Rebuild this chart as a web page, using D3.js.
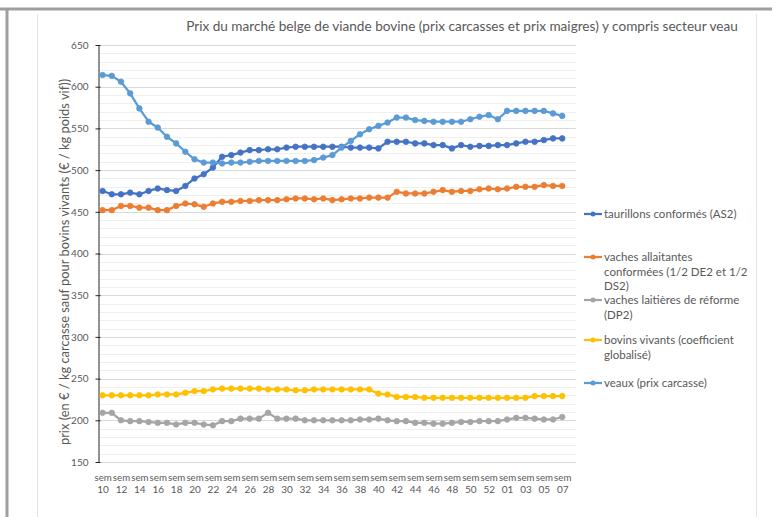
<!DOCTYPE html>
<html>
<head>
<meta charset="utf-8">
<script src="https://cdn.jsdelivr.net/npm/d3@7/dist/d3.min.js"></script>
<style>
  body { margin: 0; background: #fff; }
  svg { display: block; font-family: Lato, "Open Sans", sans-serif; }
</style>
</head>
<body>
<svg id="chart" width="779" height="517"></svg>
<script>
// weeks: sem 10 .. sem 53, then sem 01 .. sem 08 (last one empty)
const weeks = [10, 11, 12, 13, 14, 15, 16, 17, 18, 19, 20, 21, 22, 23, 24, 25, 26, 27, 28, 29,
  30, 31, 32, 33, 34, 35, 36, 37, 38, 39, 40, 41, 42, 43, 44, 45, 46, 47, 48, 49, 50, 51, 52, 53,
  1, 2, 3, 4, 5, 6, 7, 8];
const categories = weeks.map((w, i) => `${i}|${String(w).padStart(2, '0')}`);

const taurillons = [475, 471, 471, 473, 471, 475, 478, 476, 475, 481, 490, 495, 503, 516, 518, 521,
  524, 524, 525, 525, 527, 528, 528, 528, 528, 528, 528, 527, 527, 527, 526, 534, 534, 534, 532,
  532, 530, 530, 526, 530, 528, 529, 529, 530, 530, 532, 534, 534, 536, 538, 538];
const allaitantes = [452, 452, 457, 457, 455, 455, 452, 452, 457, 460, 459, 456, 460, 462, 462,
  463, 463, 464, 464, 464, 465, 466, 466, 465, 466, 464, 465, 466, 466, 467, 467, 467, 474, 472,
  472, 472, 474, 476, 474, 475, 475, 477, 478, 477, 478, 480, 480, 480, 482, 481, 481];
const laitieres = [209, 209, 200, 199, 199, 198, 197, 197, 195, 197, 197, 195, 194, 199, 199, 202,
  202, 202, 209, 202, 202, 202, 200, 200, 200, 200, 200, 200, 201, 201, 202, 200, 199, 199, 197,
  197, 196, 196, 197, 198, 198, 199, 199, 199, 201, 203, 203, 202, 201, 201, 204];
const bovins = [230, 230, 230, 230, 230, 230, 231, 231, 231, 233, 235, 235, 237, 238, 238, 238,
  238, 238, 237, 237, 237, 236, 236, 237, 237, 237, 237, 237, 237, 237, 232, 231, 228, 228, 228,
  227, 227, 227, 227, 227, 227, 227, 227, 227, 227, 227, 227, 229, 229, 229, 229];
const veaux = [614, 613, 606, 592, 574, 558, 551, 540, 532, 522, 513, 509, 509, 508, 509, 509,
  510, 511, 511, 511, 511, 511, 511, 512, 515, 518, 527, 535, 543, 549, 553, 557, 563, 563, 560,
  559, 558, 558, 558, 558, 561, 564, 566, 561, 571, 571, 571, 571, 571, 568, 565];

const seriesNames = ['taurillons conformés (AS2)', 'vaches allaitantes conformées (1/2 DE2 et 1/2 DS2)',
  'vaches laitières de réforme (DP2)', 'bovins vivants (coefficient globalisé)', 'veaux (prix carcasse)'];
const legendLines = [['taurillons conformés (AS2)'],
  ['vaches allaitantes', 'conformées (1/2 DE2 et 1/2', 'DS2)'],
  ['vaches laitières de réforme', '(DP2)'],
  ['bovins vivants (coefficient', 'globalisé)'],
  ['veaux (prix carcasse)']];
const seriesValues = [taurillons, allaitantes, laitieres, bovins, veaux];
const colors = ['#4472c4', '#ed7d31', '#a5a5a5', '#ffc000', '#5b9bd5'];
const legendY = [214, 257, 300, 340, 383];

const title = 'Prix du marché belge de viande bovine (prix carcasses et prix maigres) y compris secteur veau';
const yTitle = 'prix (en € / kg carcasse sauf pour bovins vivants (€ / kg poids vif))';

const svg = d3.select('#chart');
const textColor = '#595959';

// page / chart frame
svg.append('line').attr('x1', 0).attr('x2', 772).attr('y1', 9).attr('y2', 9)
  .attr('stroke', '#9f9f9f').attr('stroke-width', 3);
svg.append('line').attr('x1', 7).attr('x2', 7).attr('y1', 9).attr('y2', 517)
  .attr('stroke', '#9f9f9f').attr('stroke-width', 3);
svg.append('line').attr('x1', 37.5).attr('x2', 37.5).attr('y1', 14).attr('y2', 517)
  .attr('stroke', '#e3e3e3').attr('stroke-width', 1);
svg.append('line').attr('x1', 756.5).attr('x2', 756.5).attr('y1', 14).attr('y2', 517)
  .attr('stroke', '#e3e3e3').attr('stroke-width', 1);

const x = d3.scalePoint().domain(categories).range([98, 576]).padding(0.5);
const y = d3.scaleLinear().domain([150, 650]).range([462, 45]);

// minor gridlines
svg.append('g')
  .selectAll('line')
  .data(d3.range(150, 651, 10).filter(v => v % 50 !== 0))
  .join('line')
  .attr('x1', 98).attr('x2', 576)
  .attr('y1', d => Math.round(y(d)) + 0.5).attr('y2', d => Math.round(y(d)) + 0.5)
  .attr('stroke', '#f0f0f0');

// major gridlines
svg.append('g')
  .selectAll('line')
  .data(d3.range(150, 651, 50))
  .join('line')
  .attr('x1', 98).attr('x2', 576)
  .attr('y1', d => Math.round(y(d)) + 0.5).attr('y2', d => Math.round(y(d)) + 0.5)
  .attr('stroke', '#d9d9d9');

// y axis
const yAxis = svg.append('g')
  .attr('transform', 'translate(98.5,0)')
  .call(d3.axisLeft(y).tickValues(d3.range(150, 651, 50)).tickSize(3).tickPadding(7)
    .tickSizeOuter(0));
yAxis.select('.domain').attr('stroke', '#262626');
yAxis.selectAll('.tick line').attr('stroke', '#262626').attr('x2', -3).attr('x1', 2);
yAxis.selectAll('.tick text').attr('fill', textColor).style('font-size', '10px')
  .style('font-family', 'Lato, sans-serif');

// x axis labels (every second week), "sem" over the week number
const xAxis = svg.append('g')
  .attr('transform', 'translate(0,462)')
  .call(d3.axisBottom(x).tickValues(categories.filter((c, i) => i % 2 === 0 && i < 51))
    .tickSize(0).tickFormat(() => ''));
xAxis.select('.domain').remove();
xAxis.selectAll('.tick text').each(function (d) {
  const t = d3.select(this).attr('fill', textColor).style('font-family', 'Lato, sans-serif')
    .attr('y', 0).attr('dy', null);
  t.append('tspan').attr('x', 0).attr('y', 18.5).style('font-size', '9.7px').text('sem');
  t.append('tspan').attr('x', 0).attr('y', 31).style('font-size', '10px').text(d.split('|')[1]);
});

// series
const line = d3.line().x((d, i) => x(categories[i])).y(d => y(d));
seriesValues.forEach((vals, k) => {
  const g = svg.append('g');
  g.append('path').datum(vals).attr('d', line)
    .attr('fill', 'none').attr('stroke', colors[k]).attr('stroke-width', 2.25)
    .attr('stroke-linejoin', 'round');
  g.selectAll('circle').data(vals).join('circle')
    .attr('cx', (d, i) => x(categories[i])).attr('cy', d => y(d)).attr('r', 2.8)
    .attr('fill', colors[k]).attr('stroke', colors[k]).attr('stroke-width', 0.75);
});

// title
svg.append('text').attr('x', 462).attr('y', 31).attr('text-anchor', 'middle')
  .attr('fill', textColor).style('font-size', '13.6px').text(title);

// y title
svg.append('text').attr('transform', 'translate(69,262) rotate(-90)')
  .attr('text-anchor', 'middle').attr('fill', textColor).style('font-size', '12.9px').text(yTitle);

// legend
const legend = svg.append('g');
seriesNames.forEach((name, k) => {
  const g = legend.append('g').attr('transform', `translate(0,${legendY[k]})`);
  g.append('line').attr('x1', 584).attr('x2', 602).attr('y1', 0).attr('y2', 0)
    .attr('stroke', colors[k]).attr('stroke-width', 2.25);
  g.append('circle').attr('cx', 593).attr('cy', 0).attr('r', 2.5).attr('fill', colors[k]);
  const t = g.append('text').attr('fill', textColor).style('font-size', '11.5px');
  legendLines[k].forEach((l, j) => {
    t.append('tspan').attr('x', 604).attr('y', 4 + j * 14.6).text(l);
  });
});
</script>
</body>
</html>
